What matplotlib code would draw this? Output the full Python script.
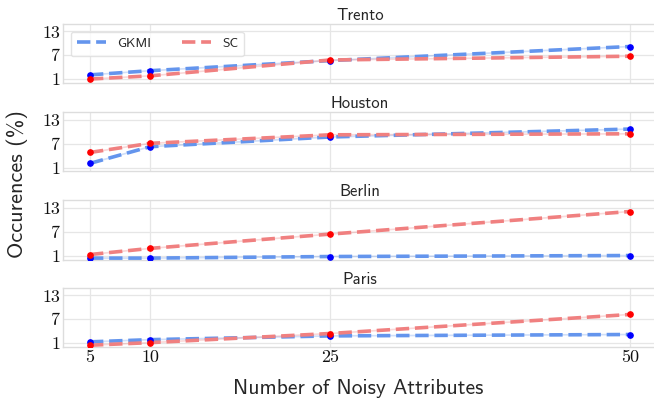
import matplotlib
matplotlib.use("Agg")
import matplotlib.pyplot as plt
import seaborn as sns

sns.set_theme(style="whitegrid")

noisy_attrs = [5, 10, 25, 50]
cities = ["Trento", "Houston", "Berlin", "Paris"]
gkmi = {
    "Trento": [2.05, 3.1, 5.65, 9.2],
    "Houston": [2.05, 6.25, 8.7, 10.7],
    "Berlin": [0.35, 0.35, 0.75, 1.0],
    "Paris": [1.3, 1.85, 2.8, 3.15],
}
sc = {
    "Trento": [1.0, 1.8, 5.8, 6.75],
    "Houston": [4.8, 7.1, 9.25, 9.5],
    "Berlin": [1.25, 2.8, 6.4, 12.1],
    "Paris": [0.45, 1.1, 3.4, 8.2],
}
yticks = [1, 7, 13]
xlabel = "Number of Noisy Attributes"
ylabel = "Occurences (%)"

sans = "cmss10"
serif = "cmr10"
text_color = "#262626"

fig = plt.figure(figsize=(6.54, 4.01), dpi=100)
left = 63 / 654
width = 594 / 654
height = 59.5 / 401
bottoms_px = [83, 171.5, 259.5, 347]

axes = []
for i, city in enumerate(cities):
    ax = fig.add_axes([left, 1 - bottoms_px[i] / 401, width, height])
    axes.append(ax)
    g = gkmi[city]
    s = sc[city]
    ax.plot(noisy_attrs, g, color="#6495ED", lw=1.2, alpha=0.3, zorder=2)
    ax.plot(noisy_attrs, s, color="#F08080", lw=1.2, alpha=0.3, zorder=2)
    ax.plot(noisy_attrs, g, color="#6495ED", lw=2.6, ls="--", label="GKMI", zorder=3)
    ax.plot(noisy_attrs, s, color="#F08080", lw=2.6, ls="--", label="SC", zorder=3)
    ax.plot(noisy_attrs, g, "o", color="blue", ms=3.8, zorder=4)
    ax.plot(noisy_attrs, s, "o", color="red", ms=3.8, zorder=4)
    ax.set_xlim(2.75, 52.25)
    ax.set_ylim(0, 15)
    ax.set_xticks(noisy_attrs)
    ax.set_yticks(yticks)
    ax.set_yticklabels([str(v) for v in yticks], fontfamily=serif, fontsize=13, color="#111111")
    ax.tick_params(axis="both", pad=2, length=0)
    ax.set_title(city, fontfamily=sans, fontsize=12, color=text_color, pad=2.6)
    ax.grid(True, color="#E6E6E6", lw=0.9)
    for sp in ax.spines.values():
        sp.set_color("#DDDDDD")
        sp.set_linewidth(1)
    if i < 3:
        ax.set_xticklabels([])
    else:
        ax.set_xticklabels([str(v) for v in noisy_attrs], fontfamily=serif, fontsize=13, color="#111111")

axes[0].legend(handles=axes[0].get_lines()[2:4], loc="upper left",
               bbox_to_anchor=(0.013, 0.862), borderaxespad=0, ncol=2, frameon=True,
               prop={"family": sans, "size": 9.7}, handlelength=2.2,
               handletextpad=0.8, columnspacing=2.25, borderpad=0.45,
               fancybox=True, edgecolor="#DDDDDD")

fig.text(17 / 654, 1 - 184 / 401, ylabel, rotation=90, ha="center", va="center",
         fontfamily=sans, fontsize=16, color=text_color)
fig.text(358 / 654, 1 - 388 / 401, xlabel, ha="center", va="center",
         fontfamily=sans, fontsize=15.5, color=text_color)

fig.savefig("out.png", dpi=100)
